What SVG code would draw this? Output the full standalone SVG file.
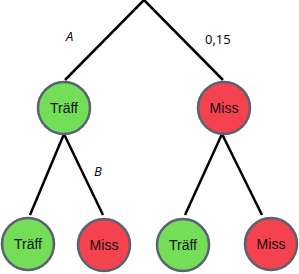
<svg xmlns="http://www.w3.org/2000/svg" width="299" height="274" viewBox="0 0 299 274">
<style>
.n{stroke:#596270;stroke-width:2.5}
.g{fill:#74de58}
.r{fill:#f5424f}
.e{stroke:#000;stroke-width:2.5;fill:none}
.t{font-family:"Liberation Sans",Arial,sans-serif;font-size:14px;text-anchor:middle;fill:#111}
.l{font-family:"Open Sans","Liberation Sans",sans-serif;font-size:13px;fill:#000}
</style>
<rect width="299" height="274" fill="#fff"/>
<g id="connectors">
<path class="e" d="M144,0 L65,80 M144,0 L223,80 M64,134 L30,215 M64,134 L103,215 M222,134 L185,215 M222,134 L262,215"/>
</g>
<g id="labels">
<text class="l" x="66" y="41" font-style="italic">A</text>
<text class="l" x="205" y="44">0,15</text>
<text class="l" x="94" y="176" font-style="italic">B</text>
</g>
<g id="n1"><circle class="n g" cx="64" cy="108" r="26"/><text class="t" x="64" y="113">Träff</text></g>
<g id="n2"><circle class="n r" cx="224" cy="108" r="26"/><text class="t" x="224" y="113">Miss</text></g>
<g id="n3"><circle class="n g" cx="28" cy="244" r="26"/><text class="t" x="28" y="249">Träff</text></g>
<g id="n4"><circle class="n r" cx="104" cy="245" r="26"/><text class="t" x="104" y="250">Miss</text></g>
<g id="n5"><circle class="n g" cx="183" cy="245" r="26"/><text class="t" x="183" y="250">Träff</text></g>
<g id="n6"><circle class="n r" cx="271" cy="244" r="26"/><text class="t" x="271" y="249">Miss</text></g>
</svg>
